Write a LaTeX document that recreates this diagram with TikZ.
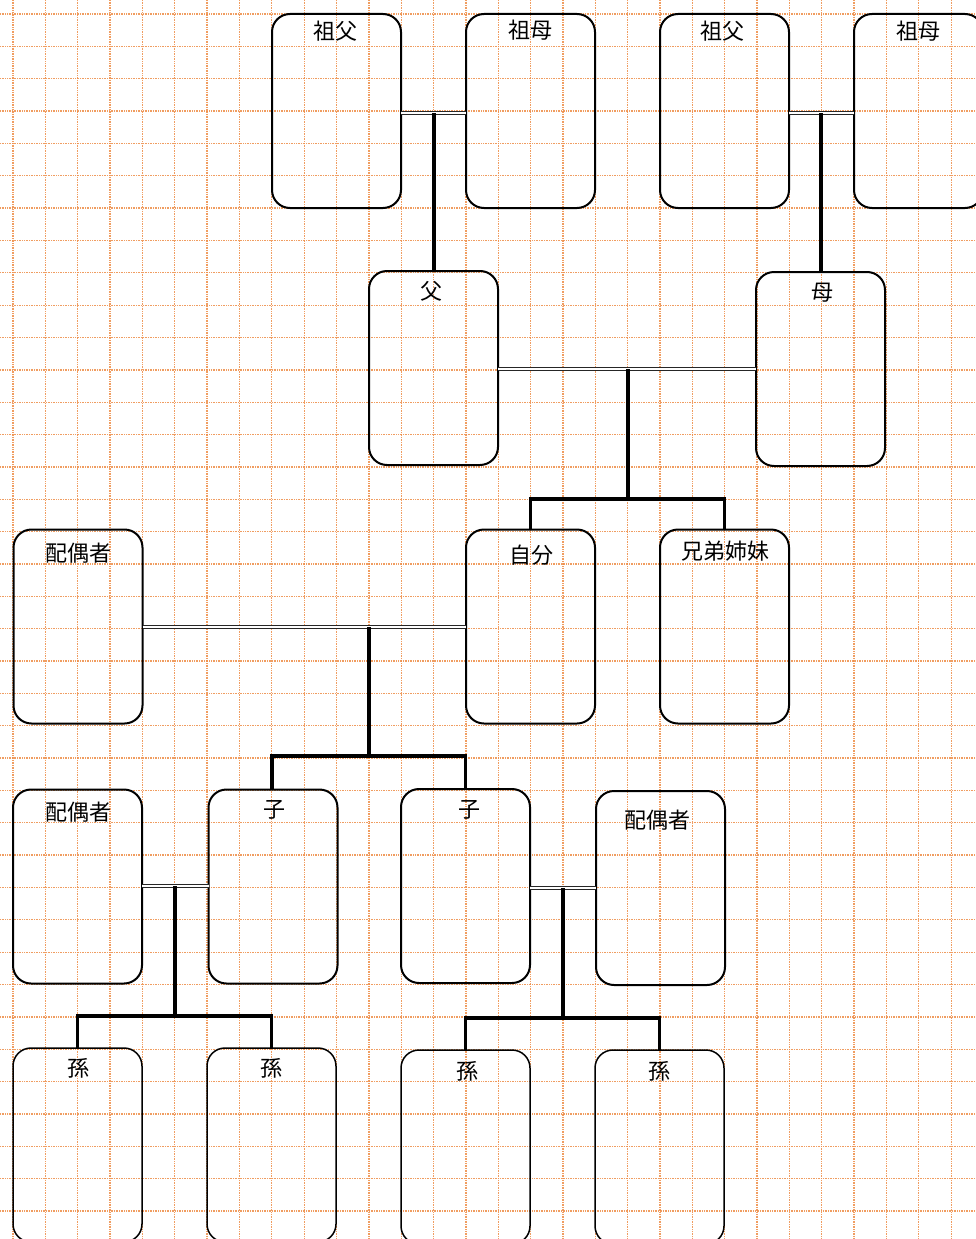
\documentclass[tikz,border=0pt]{standalone}
\usepackage{fontspec}
\usetikzlibrary{calc}
\newfontfamily\jp{Noto Sans CJK JP}
\definecolor{gridorange}{RGB}{238,140,70}
\begin{document}
\begin{tikzpicture}[x=1pt,y=-1pt,
  gridline/.style={gridorange,line width=1.3pt,dash pattern=on 1pt off 0.7pt,opacity=0.85},
  box/.style={draw=black,line width=2pt,rounded corners=18pt,fill=none,
    minimum width=129pt,minimum height=194pt,inner sep=0pt,outer sep=0pt},
  gbox/.style={box,line width=1.5pt},
  lab/.style={font=\jp\fontsize{22}{26}\selectfont,inner sep=0pt,text=black},
  marry/.style={draw=black!85,line width=0.8pt,double=white,double distance=1.8pt},
  desc/.style={draw=black,line width=3.2pt,line join=miter}]
\useasboundingbox (0,0) rectangle (975,1239);
\fill[white] (0,0) rectangle (975,1239);
% grid
\foreach \i in {0,...,29} \draw[gridline] ({13+32.35*\i},0) -- ({13+32.35*\i},1239);
\foreach \i in {0,...,37} \draw[gridline] (0,{14+32.35*\i}) -- (975,{14+32.35*\i});

% row 1
\node[box] (gf1) at (336.5,111) {};
\node[box] (gm1) at (530.5,111) {};
\node[box] (gf2) at (724.5,111) {};
\node[box] (gm2) at (918.5,111) {};
% row 2
\node[box] (fa) at (433.5,368) {};
\node[box] (mo) at (820.5,369) {};
% row 3
\node[box] (sp0) at (78,626.5) {};
\node[box] (me) at (530.5,626.5) {};
\node[box] (sib) at (724.5,626.5) {};
% row 4
\node[box] (sp1) at (77.5,886.5) {};
\node[box] (ch1) at (273,886.5) {};
\node[box] (ch2) at (465.5,886) {};
\node[box] (sp2) at (660.5,888) {};
% row 5
\node[gbox] (gc1) at (77.5,1145) {};
\node[gbox] (gc2) at (271.5,1145) {};
\node[gbox] (gc3) at (465.5,1147) {};
\node[gbox] (gc4) at (659.5,1147) {};

% labels
\node[lab] (tgf1) at (335,31) {祖父};
\node[lab] (tgm1) at (530,30) {祖母};
\node[lab] (tgf2) at (722,31) {祖父};
\node[lab] (tgm2) at (918,31) {祖母};
\node[lab] (tfa) at (431,291) {父};
\node[lab] (tmo) at (822,293) {母};
\node[lab] (tsp0) at (78,553) {配偶者};
\node[lab] (tme) at (531,555) {自分};
\node[lab] (tsib) at (725,551) {兄弟姉妹};
\node[lab] (tsp1) at (78,812) {配偶者};
\node[lab] (tch1) at (274,810) {子};
\node[lab] (tch2) at (469,810) {子};
\node[lab] (tsp2) at (657,820) {配偶者};
\node[lab] (tgc1) at (78,1068) {孫};
\node[lab] (tgc2) at (271,1068) {孫};
\node[lab] (tgc3) at (467,1071) {孫};
\node[lab] (tgc4) at (659,1071) {孫};

% junctions
\coordinate (j1) at (434,113);
\coordinate (j2) at (821,113);
\coordinate (j3) at (628,369);
\coordinate (b3) at (628,499);
\coordinate (j4) at (369,627);
\coordinate (b4) at (369,756);
\coordinate (j5) at (175,886);
\coordinate (b5) at (175,1016);
\coordinate (j6) at (563,888);
\coordinate (b6) at (563,1018);

% grandparents -> parents
\draw[marry] (gf1.east |- j1) -- (gm1.west |- j1);
\draw[desc] (j1) -- (fa.north -| j1);
\draw[marry] (gf2.east |- j2) -- (gm2.west |- j2);
\draw[desc] (j2) -- (mo.north -| j2);
% parents -> me, sibling
\draw[marry] (fa.east |- j3) -- (mo.west |- j3);
\draw[desc] (j3) -- (b3);
\draw[desc] (me.north) |- (b3) -| (sib.north);
% me + spouse -> children
\draw[marry] (sp0.east |- j4) -- (me.west |- j4);
\draw[desc] (j4) -- (b4);
\draw[desc] ($(ch1.north)+(-1,0)$) |- (b4) -| (ch2.north);
% child1 + spouse -> grandchildren
\draw[marry] (sp1.east |- j5) -- (ch1.west |- j5);
\draw[desc] (j5) -- (b5);
\draw[desc] (gc1.north) |- (b5) -| (gc2.north);
% child2 + spouse -> grandchildren
\draw[marry] (ch2.east |- j6) -- (sp2.west |- j6);
\draw[desc] (j6) -- (b6);
\draw[desc] (gc3.north) |- (b6) -| (gc4.north);
\end{tikzpicture}
\end{document}
